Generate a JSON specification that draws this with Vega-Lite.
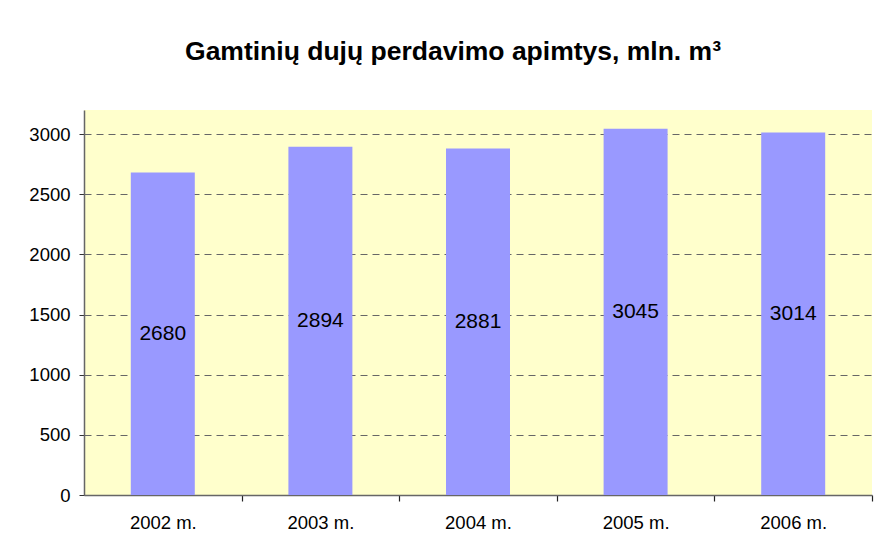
{
  "$schema": "https://vega.github.io/schema/vega-lite/v6.json",
  "width": 788,
  "height": 385,
  "autosize": {"type": "none"},
  "padding": {"left": 84, "top": 110, "right": 14, "bottom": 65},
  "background": "white",
  "title": {
    "text": "Gamtinių dujų perdavimo apimtys, mln. m³",
    "font": "Liberation Sans",
    "fontSize": 26.5,
    "fontWeight": "bold",
    "color": "black",
    "anchor": "middle",
    "frame": "group",
    "dx": -25,
    "offset": 45
  },
  "data": {
    "values": [
      {"year": "2002 m.", "value": 2680},
      {"year": "2003 m.", "value": 2894},
      {"year": "2004 m.", "value": 2881},
      {"year": "2005 m.", "value": 3045},
      {"year": "2006 m.", "value": 3014}
    ]
  },
  "encoding": {
    "x": {
      "field": "year",
      "type": "nominal",
      "sort": null,
      "scale": {"paddingInner": 0.594, "paddingOuter": 0.297},
      "axis": {
        "title": null,
        "labelAngle": 0,
        "labelFont": "Liberation Sans",
        "labelFontSize": 18.5,
        "labelColor": "black",
        "tickOffset": 78.8,
        "labelOffset": -78.8,
        "tickSize": 6,
        "tickWidth": 1.2,
        "tickColor": "#222222",
        "domainColor": "#666666",
        "domainWidth": 1.5,
        "labelPadding": 12,
        "grid": false
      }
    }
  },
  "layer": [
    {
      "mark": {"type": "bar", "color": "#9999FF"},
      "encoding": {
        "y": {
          "field": "value",
          "type": "quantitative",
          "scale": {"domain": [0, 3200], "nice": false},
          "axis": {
            "title": null,
            "format": "d",
            "values": [0, 500, 1000, 1500, 2000, 2500, 3000],
            "labelFont": "Liberation Sans",
            "labelFontSize": 18.5,
            "labelColor": "black",
            "labelPadding": 9,
            "tickSize": 5,
            "tickColor": "#333333",
            "domainColor": "#666666",
            "domainWidth": 1.5,
            "grid": true,
            "gridColor": "#666666",
            "gridDash": [7, 5],
            "gridWidth": 1
          }
        }
      }
    },
    {
      "mark": {"type": "text", "font": "Liberation Sans", "fontSize": 21, "color": "black", "baseline": "middle"},
      "encoding": {
        "y": {
          "field": "value",
          "type": "quantitative",
          "scale": {"domain": [0, 6400], "nice": false},
          "axis": null
        },
        "text": {"field": "value", "type": "quantitative", "format": "d"}
      }
    }
  ],
  "resolve": {"scale": {"y": "independent"}},
  "config": {
    "view": {"fill": "#FFFFCC", "stroke": null}
  }
}
